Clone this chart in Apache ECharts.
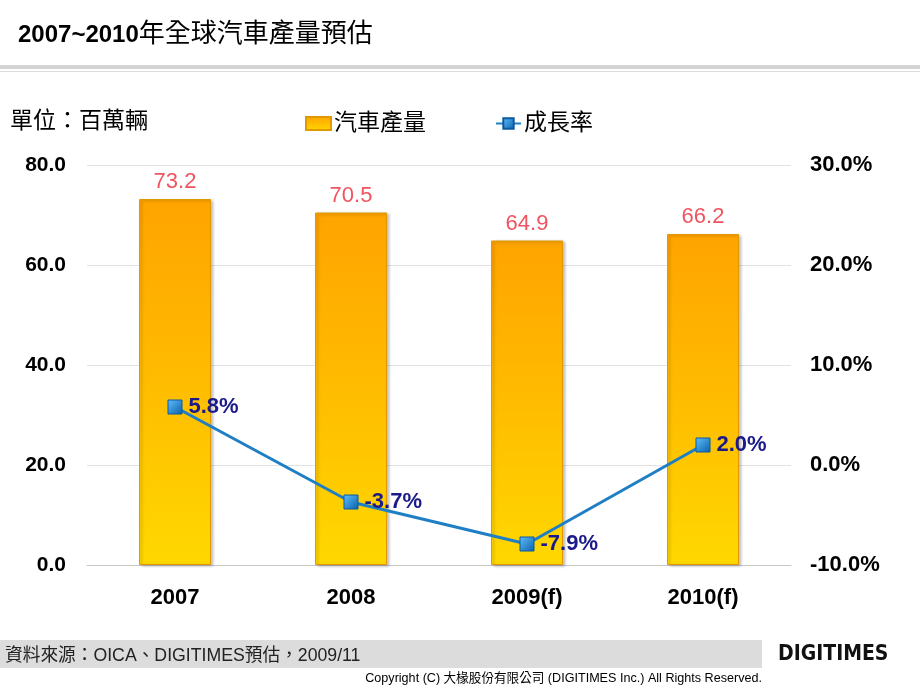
<!DOCTYPE html>
<html><head><meta charset="utf-8">
<script src="https://cdn.jsdelivr.net/npm/echarts@6/dist/echarts.min.js"></script>
<style>html,body{margin:0;padding:0;background:#fff}#c{width:920px;height:690px}</style>
</head><body><div id="c"></div>
<script>
var categories = ['2007', '2008', '2009(f)', '2010(f)'];
var production = [73.2, 70.5, 64.9, 66.2];
var growth = [5.8, -3.7, -7.9, 2.0];
var leftTicks = [0, 80, 20];
var rightTicks = [-10, 30, 10];

var chart = echarts.init(document.getElementById('c'));
var font = '"Liberation Sans", Arial, "Noto Sans CJK TC", sans-serif';
chart.setOption({
  animation: false,
  textStyle: {fontFamily: font},
  grid: {left: 87, right: 129, top: 165, bottom: 125},
  legend: {
    top: 107, left: 300, itemGap: 69, itemWidth: 25, itemHeight: 13,
    textStyle: {fontSize: 23, color: '#000', fontFamily: font, padding: [0, 0, 0, -2]},
    data: [
      {name: '汽車產量', icon: 'rect'},
      {name: '成長率'}
    ]
  },
  xAxis: {
    type: 'category', data: categories,
    axisLine: {lineStyle: {color: '#c8c8c8'}},
    axisTick: {show: false},
    axisLabel: {fontSize: 22, fontWeight: 'bold', color: '#000', margin: 22}
  },
  yAxis: [
    {type: 'value', min: leftTicks[0], max: leftTicks[1], interval: leftTicks[2],
     splitLine: {show: true, lineStyle: {color: '#e2e2e2'}}, axisLine: {show: false}, axisTick: {show: false},
     axisLabel: {fontSize: 21, fontWeight: 'bold', color: '#000', margin: 21,
       formatter: function(v){return v.toFixed(1);}}},
    {type: 'value', min: rightTicks[0], max: rightTicks[1], interval: rightTicks[2],
     splitLine: {show: false}, axisLine: {show: false}, axisTick: {show: false},
     axisLabel: {fontSize: 22, fontWeight: 'bold', color: '#000', margin: 19,
       formatter: function(v){return v.toFixed(1) + '%';}}}
  ],
  series: [
    {name: '汽車產量', type: 'bar', data: production, barWidth: 72,
     itemStyle: {
       color: new echarts.graphic.LinearGradient(0, 0, 0, 1, [
         {offset: 0, color: '#ffa400'}, {offset: 0.5, color: '#ffbc00'}, {offset: 1, color: '#ffd800'}]),
       borderColor: '#e09a00', borderWidth: 1,
       shadowColor: 'rgba(0,0,0,0.25)', shadowBlur: 3, shadowOffsetX: 2, shadowOffsetY: 1
     },
     label: {show: true, position: 'top', distance: 6, fontSize: 22, color: '#ef5560',
       formatter: function(p){return p.value.toFixed(1);}}},
    {name: '成長率', type: 'line', yAxisIndex: 1, data: growth,
     lineStyle: {color: '#1f7fc4', width: 3},
     symbol: 'rect', symbolSize: 14,
     itemStyle: {
       color: new echarts.graphic.LinearGradient(0, 0, 1, 1, [
         {offset: 0, color: '#5fc0ff'}, {offset: 1, color: '#0a5fa8'}]),
       borderColor: '#0a5a9e', borderWidth: 1
     },
     label: {show: true, position: 'right', distance: 6, fontSize: 22, fontWeight: 'bold', color: '#1a1a8a',
       formatter: function(p){return p.value.toFixed(1) + '%';}}}
  ],
  graphic: [
    {type: 'text', left: 18, top: 22, style: {
      text: '{a|2007~2010}{b|年全球汽車產量預估}', fill: '#000', fontFamily: font,
      rich: {a: {fontSize: 24, fontWeight: 'bold', fontFamily: font}, b: {fontSize: 26, fontFamily: font}}}},
    {type: 'rect', left: 0, top: 65, shape: {width: 920, height: 4}, style: {fill: '#d4d4d4'}},
    {type: 'rect', left: 0, top: 71, shape: {width: 920, height: 1}, style: {fill: '#dedede'}},
    {type: 'text', left: 10, top: 110, style: {text: '單位：百萬輛', fontSize: 23, fill: '#000', fontFamily: font}},
    {type: 'rect', left: 0, top: 640, shape: {width: 762, height: 28}, style: {fill: '#dcdcdc'}},
    {type: 'text', left: 5, top: 647, style: {text: '資料來源：OICA、DIGITIMES預估，2009/11', fontSize: 17.7, fill: '#222', fontFamily: font}},
    {type: 'text', left: 778, top: 644, style: {text: 'DIGITIMES', fontSize: 21, fontWeight: 'bold', fill: '#111', fontFamily: '"DejaVu Sans Condensed", "Liberation Sans", sans-serif'}},
    {type: 'text', right: 158, top: 672, style: {text: 'Copyright (C) 大椽股份有限公司 (DIGITIMES Inc.) All Rights Reserved.', fontSize: 12.6, fill: '#000', fontFamily: font}}
  ]
});
</script></body></html>
